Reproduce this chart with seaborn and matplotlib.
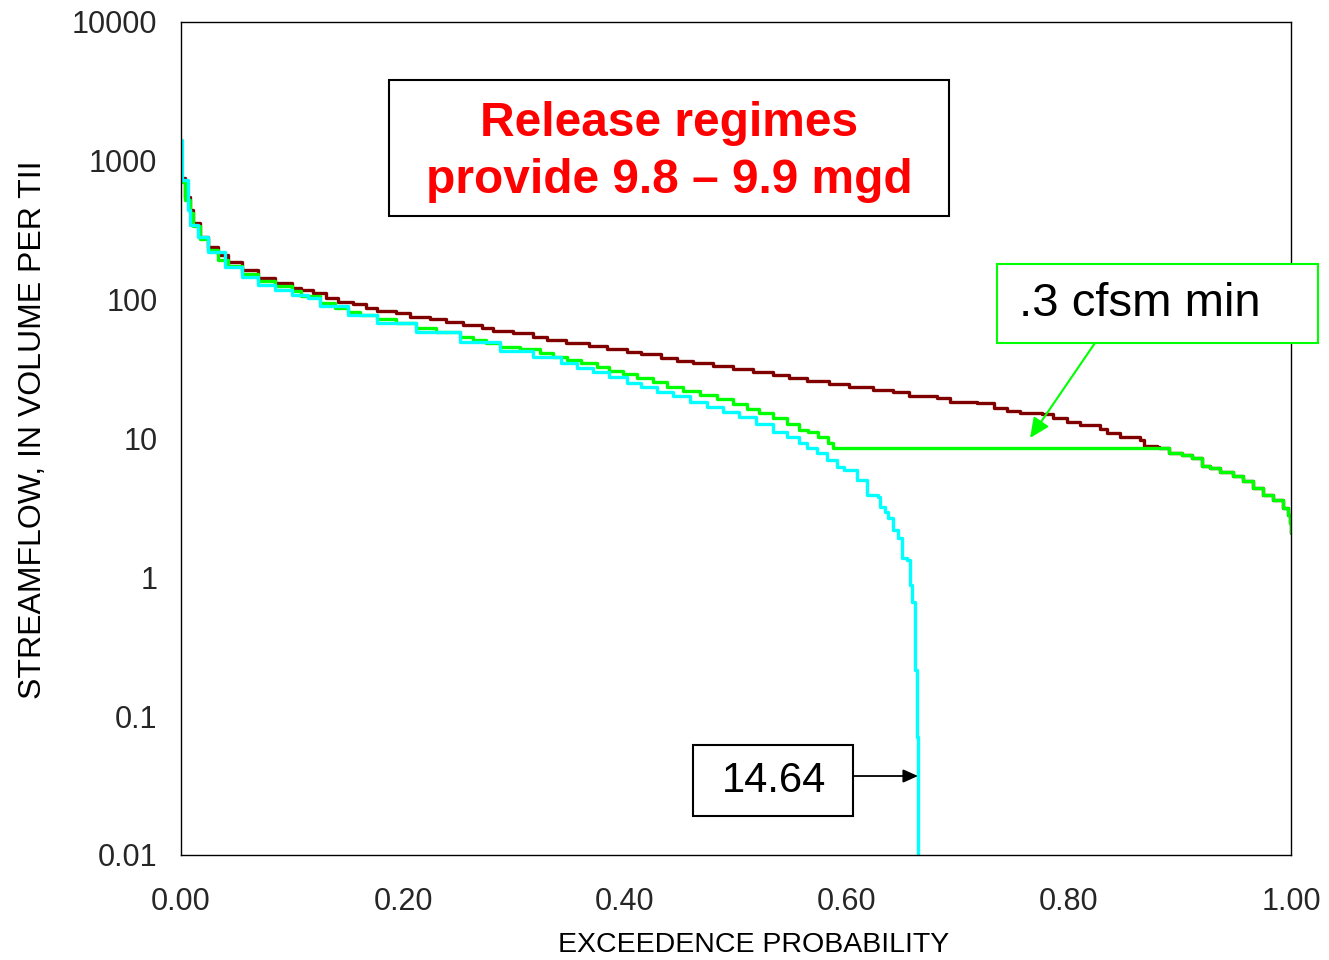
import numpy as np
import pandas as pd
import matplotlib
matplotlib.use("Agg")
import matplotlib.pyplot as plt
import matplotlib.patches as patches
import seaborn as sns

# exceedence probability / streamflow
natural_p = [0.000, 0.004, 0.008, 0.011, 0.017, 0.024, 0.033, 0.042, 0.055, 0.069,
             0.085, 0.100, 0.108, 0.119, 0.131, 0.141, 0.155, 0.167, 0.177, 0.194,
             0.206, 0.224, 0.239, 0.254, 0.271, 0.281, 0.299, 0.317, 0.330, 0.347,
             0.368, 0.384, 0.402, 0.414, 0.432, 0.447, 0.461, 0.479, 0.497, 0.515,
             0.533, 0.548, 0.564, 0.584, 0.602, 0.623, 0.641, 0.656, 0.681, 0.693,
             0.717, 0.732, 0.744, 0.756, 0.776, 0.786, 0.798, 0.810, 0.828, 0.834,
             0.846, 0.864, 0.868, 0.879]
natural_q = [754, 550, 444, 357, 283, 240, 210, 187, 164, 144,
             132, 122, 118, 112, 103, 96.4, 93.3, 87.3, 83.1, 80.3,
             75.2, 72.7, 69.2, 65.8, 62.6, 59.6, 57.7, 54.0, 51.3, 48.8,
             46.5, 44.2, 42.1, 40.7, 38.1, 36.2, 35.0, 33.3, 31.7, 30.2,
             28.7, 27.3, 26.0, 24.7, 23.5, 22.4, 21.7, 20.3, 19.6, 18.4,
             18.0, 16.6, 15.8, 15.3, 15.0, 14.1, 13.2, 12.5, 11.7, 11.0,
             10.3, 9.77, 8.85, 8.70]

# low-flow tail shared by natural and .3 cfsm min release
tail_p = [0.881, 0.890, 0.902, 0.911, 0.920, 0.927, 0.936, 0.948, 0.957, 0.966,
          0.975, 0.984, 0.993, 0.997, 0.999, 1.000]
tail_q = [8.55, 7.88, 7.62, 7.25, 6.35, 6.14, 5.75, 5.38, 4.95, 4.41,
          3.92, 3.61, 3.16, 2.82, 2.47, 2.09]

min_release_p = [0.000, 0.004, 0.008, 0.011, 0.017, 0.024, 0.033, 0.042, 0.055, 0.069,
                 0.085, 0.100, 0.108, 0.125, 0.139, 0.150, 0.161, 0.177, 0.194, 0.212,
                 0.230, 0.251, 0.263, 0.275, 0.287, 0.305, 0.323, 0.335, 0.348, 0.360,
                 0.375, 0.386, 0.398, 0.411, 0.425, 0.438, 0.452, 0.468, 0.483, 0.497,
                 0.510, 0.521, 0.533, 0.546, 0.557, 0.565, 0.574, 0.583, 0.587]
min_release_q = [706, 524, 422, 340, 274, 228, 194, 175, 153, 137,
                 126, 116, 107, 94.8, 87.3, 81.7, 77.7, 72.7, 68.1, 62.6,
                 58.6, 54.0, 51.3, 48.8, 45.7, 44.2, 41.4, 38.7, 36.8, 35.0,
                 32.8, 30.7, 29.2, 27.3, 25.6, 23.5, 22.0, 20.6, 19.3, 17.8,
                 16.3, 15.3, 14.1, 12.7, 11.5, 11.2, 10.3, 9.30, 8.55]

other_release_p = [0.000, 0.001, 0.006, 0.008, 0.015, 0.024, 0.040, 0.055, 0.069, 0.085,
                   0.100, 0.114, 0.125, 0.150, 0.177, 0.212, 0.251, 0.287, 0.317, 0.342,
                   0.357, 0.371, 0.386, 0.402, 0.414, 0.429, 0.443, 0.459, 0.474, 0.488,
                   0.503, 0.518, 0.533, 0.546, 0.557, 0.564, 0.573, 0.582, 0.591, 0.597,
                   0.609, 0.618, 0.628, 0.630, 0.634, 0.637, 0.641, 0.646, 0.650, 0.654,
                   0.657, 0.659, 0.661, 0.663, 0.664, 0.6641]
other_release_q = [1417, 730, 443, 346, 283, 221, 172, 146, 128, 118,
                   108, 103, 90.2, 77.7, 68.1, 58.6, 49.7, 42.8, 38.7, 35.0,
                   32.3, 30.2, 27.8, 25.2, 23.5, 21.7, 20.3, 18.4, 16.9, 15.5,
                   14.3, 12.7, 11.2, 10.3, 9.30, 8.55, 7.88, 7.01, 6.24, 5.94,
                   5.03, 3.92, 3.80, 3.21, 2.96, 2.68, 2.20, 1.92, 1.38, 1.33,
                   0.88, 0.665, 0.215, 0.071, 0.060, 0.001]

tail_start = 0.881
min_level = 8.55

x_ticks = [0.0, 0.2, 0.4, 0.6, 0.8, 1.0]
x_tick_labels = ["0.00", "0.20", "0.40", "0.60", "0.80", "1.00"]
y_ticks = [0.01, 0.1, 1, 10, 100, 1000, 10000]
y_tick_labels = ["0.01", "0.1", "1", "10", "100", "1000", "10000"]

sns.set_style("white")
plt.rcParams["font.family"] = ["Liberation Sans", "DejaVu Sans"]

natural = pd.DataFrame({"p": natural_p + tail_p, "q": natural_q + tail_q})
min_release = pd.DataFrame({
    "p": min_release_p + [tail_start] + tail_p,
    "q": min_release_q + [min_level] + tail_q,
})
other_release = pd.DataFrame({"p": other_release_p, "q": other_release_q})

fig = plt.figure(figsize=(13.29, 9.6), dpi=100)
ax = fig.add_axes([0.1362, 0.1094, 0.8352, 0.8677])

sns.lineplot(data=natural, x="p", y="q", ax=ax, color="#800000",
             linewidth=2.4, drawstyle="steps-post", estimator=None, sort=False)
sns.lineplot(data=min_release, x="p", y="q", ax=ax, color="#00ff00",
             linewidth=2.4, drawstyle="steps-post", estimator=None, sort=False)
sns.lineplot(data=other_release, x="p", y="q", ax=ax, color="#00ffff",
             linewidth=2.4, drawstyle="steps-post", estimator=None, sort=False)

ax.set_yscale("log")
ax.set_xlim(0, 1)
ax.set_ylim(0.01, 10000)
ax.set_xticks(x_ticks)
ax.set_xticklabels(x_tick_labels)
ax.set_yticks(y_ticks)
ax.set_yticklabels(y_tick_labels)
ax.minorticks_off()
ax.tick_params(axis="x", direction="in", length=7, width=0.8,
               labelsize=22, pad=23, color="#444444")
ax.tick_params(axis="y", direction="in", length=7, width=0.8,
               labelsize=22, pad=17, color="#444444")

for side in ["left", "bottom", "top", "right"]:
    ax.spines[side].set_visible(True)
    ax.spines[side].set_color("black")
    ax.spines[side].set_linewidth(1.0)

ax.set_xlabel("EXCEEDENCE PROBABILITY", fontsize=20.5, color="black")
ax.xaxis.set_label_coords(0.516, -0.092)
ax.set_ylabel("STREAMFLOW, IN VOLUME PER TII", fontsize=23, color="black")
ax.yaxis.set_label_coords(-0.120, 0.51)

# title box
ax.add_patch(patches.Rectangle((0.1874, 0.7671), 0.5045, 0.1633,
                               transform=ax.transAxes, fill=True,
                               facecolor="white", edgecolor="black",
                               linewidth=1.5, clip_on=False, zorder=5))
ax.text(0.4396, 0.8440, "Release regimes\nprovide 9.8 \u2013 9.9 mgd",
        transform=ax.transAxes, ha="center", va="center", fontsize=34.5,
        fontweight="bold", color="#ff0000", zorder=6, linespacing=1.32)

# .3 cfsm min box and arrow
ax.add_patch(patches.Rectangle((0.7351, 0.6146), 0.2892, 0.0949,
                               transform=ax.transAxes, fill=True,
                               facecolor="white", edgecolor="#00ff00",
                               linewidth=1.5, clip_on=False, zorder=5))
ax.text(0.8640, 0.6615, ".3 cfsm min", transform=ax.transAxes,
        ha="center", va="center", fontsize=34, color="black", zorder=6)
ax.annotate("", xy=(0.7649, 0.5006), xytext=(0.8234, 0.6146),
            xycoords="axes fraction", textcoords="axes fraction",
            arrowprops=dict(arrowstyle="-|>,head_length=1.2,head_width=0.55",
                            color="#00ff00", lw=1.5, shrinkA=0, shrinkB=0),
            zorder=6)

# 14.64 box and arrow
ax.add_patch(patches.Rectangle((0.4613, 0.0468), 0.1441, 0.0853,
                               transform=ax.transAxes, fill=True,
                               facecolor="white", edgecolor="black",
                               linewidth=1.5, clip_on=False, zorder=5))
ax.text(0.5342, 0.0888, "14.64", transform=ax.transAxes,
        ha="center", va="center", fontsize=30, color="black", zorder=6)
ax.annotate("", xy=(0.6640, 0.0948), xytext=(0.6054, 0.0948),
            xycoords="axes fraction", textcoords="axes fraction",
            arrowprops=dict(arrowstyle="-|>,head_length=0.9,head_width=0.4",
                            color="black", lw=1.3, shrinkA=0, shrinkB=0),
            zorder=6)

fig.savefig("out.png", dpi=100)
plt.close(fig)
